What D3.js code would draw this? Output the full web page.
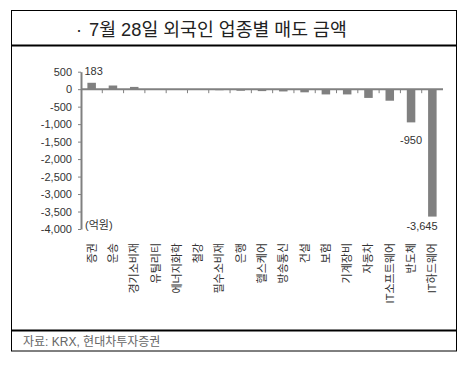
<!DOCTYPE html>
<html>
<head>
<meta charset="utf-8">
<script src="https://cdn.jsdelivr.net/npm/d3@7"></script>
<style>
  body { margin: 0; background: #fff; }
  svg { display: block; }
  text { font-family: "Liberation Sans", "Noto Sans CJK KR", sans-serif; }
</style>
</head>
<body>
<svg id="chart" width="465" height="367"></svg>
<script>
const title = '7월 28일 외국인 업종별 매도 금액';
const source = '자료: KRX, 현대차투자증권';
const unit = '(억원)';

const sectors = ['증권', '운송', '경기소비재', '유틸리티', '에너지화학', '철강', '필수소비재', '은행',
  '헬스케어', '방송통신', '건설', '보험', '기계장비', '자동차', 'IT소프트웨어', '반도체', 'IT하드웨어'];
const amounts = [183, 105, 65, -10, -15, -20, -30, -45, -55, -65, -90, -150, -150, -250, -330, -950, -3645];
const yTicks = [500, 0, -500, -1000, -1500, -2000, -2500, -3000, -3500, -4000];
// only a few bars carry a value label
const labelled = { '증권': '183', '반도체': '-950', 'IT하드웨어': '-3,645' };

const svg = d3.select('#chart');
const grey = '#808080';

// frame
svg.append('rect')
  .attr('x', 11.5).attr('y', 10.5)
  .attr('width', 445).attr('height', 340.5)
  .attr('fill', 'none').attr('stroke', '#000').attr('stroke-width', 1);
svg.append('line')
  .attr('x1', 11).attr('x2', 457).attr('y1', 45.5).attr('y2', 45.5)
  .attr('stroke', '#000').attr('stroke-width', 2);
svg.append('line')
  .attr('x1', 11).attr('x2', 457).attr('y1', 330.5).attr('y2', 330.5)
  .attr('stroke', '#000').attr('stroke-width', 2);

svg.append('text')
  .attr('x', 76).attr('y', 35.5)
  .attr('font-size', 18).attr('fill', '#222')
  .text('\u00b7');
svg.append('text')
  .attr('x', 89).attr('y', 35.5)
  .attr('font-size', 18.3).attr('fill', '#222')
  .text(title);

svg.append('text')
  .attr('x', 23).attr('y', 345.5)
  .attr('font-size', 12).attr('fill', '#666')
  .text(source);

const x = d3.scaleBand()
  .domain(sectors)
  .range([81, 443])
  .paddingInner(0.6)
  .paddingOuter(0.3);

const y = d3.scaleLinear()
  .domain([-4000, 500])
  .range([229, 71.7]);

const fmt = d => d3.format(',')(d).replace('\u2212', '-');

// bars
svg.append('g')
  .selectAll('rect')
  .data(sectors)
  .join('rect')
  .attr('x', d => x(d))
  .attr('width', x.bandwidth())
  .attr('y', (d, i) => Math.min(y(amounts[i]), y(0)))
  .attr('height', (d, i) => Math.abs(y(amounts[i]) - y(0)))
  .attr('fill', grey);

// y axis
const yAxis = svg.append('g')
  .attr('transform', 'translate(81,0)')
  .call(d3.axisLeft(y).tickValues(yTicks).tickFormat(fmt).tickSize(3).tickSizeOuter(0).tickPadding(6));
yAxis.select('.domain').attr('stroke', grey).attr('stroke-width', 2);
yAxis.selectAll('.tick line').attr('stroke', grey);
yAxis.selectAll('.tick text').attr('font-size', 11).attr('fill', '#333')
  .attr('font-family', '"Liberation Sans", sans-serif');

// x axis line at zero, with ticks at band boundaries
const step = x.step();
const edges = sectors.map(d => x(d) - (step - x.bandwidth()) / 2).slice(1);
svg.append('line')
  .attr('x1', 81).attr('x2', 443)
  .attr('y1', y(0)).attr('y2', y(0))
  .attr('stroke', grey).attr('stroke-width', 2);
svg.append('g')
  .selectAll('line')
  .data(edges)
  .join('line')
  .attr('x1', d => d).attr('x2', d => d)
  .attr('y1', y(0)).attr('y2', y(0) + 4)
  .attr('stroke', grey);

// category labels, rotated
svg.append('g')
  .selectAll('text')
  .data(sectors)
  .join('text')
  .attr('transform', d => `translate(${x(d) + x.bandwidth() / 2},243) rotate(-90)`)
  .attr('text-anchor', 'end')
  .attr('dominant-baseline', 'central')
  .attr('font-size', 11)
  .attr('fill', '#333')
  .text(d => d);

// value labels
const vi = d => sectors.indexOf(d);
svg.append('text')
  .attr('x', x('증권') + x.bandwidth() / 2 + 2)
  .attr('y', y(amounts[vi('증권')]) - 8)
  .attr('text-anchor', 'middle')
  .attr('font-size', 11).attr('fill', '#333')
  .text(labelled['증권']);
svg.append('text')
  .attr('x', x('반도체') + x.bandwidth() / 2)
  .attr('y', y(amounts[vi('반도체')]) + 22)
  .attr('text-anchor', 'middle')
  .attr('font-size', 11).attr('fill', '#333')
  .text(labelled['반도체']);
svg.append('text')
  .attr('x', x('IT하드웨어') + x.bandwidth() + 1)
  .attr('y', y(amounts[vi('IT하드웨어')]) + 13)
  .attr('text-anchor', 'end')
  .attr('font-size', 11).attr('fill', '#333')
  .text(labelled['IT하드웨어']);

svg.append('text')
  .attr('x', 85).attr('y', 229)
  .attr('font-size', 11).attr('fill', '#333')
  .text(unit);
</script>
</body>
</html>
